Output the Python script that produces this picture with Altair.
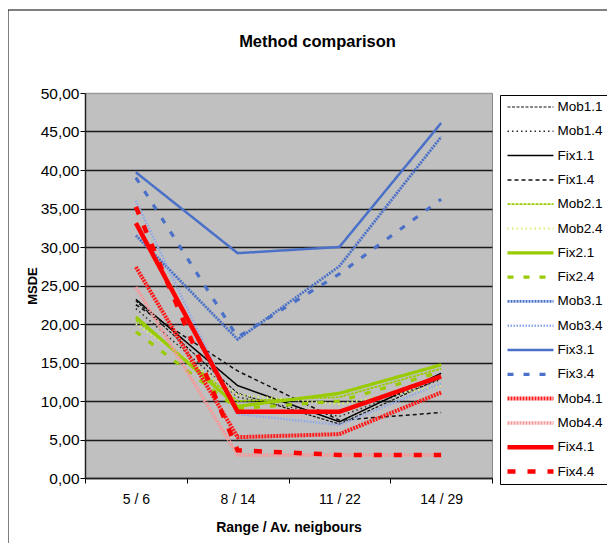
import altair as alt
import pandas as pd

# ---- data ----
categories = ["5 / 6", "8 / 14", "11 / 22", "14 / 29"]
series_names = ["Mob1.1", "Mob1.4", "Fix1.1", "Fix1.4",
                "Mob2.1", "Mob2.4", "Fix2.1", "Fix2.4",
                "Mob3.1", "Mob3.4", "Fix3.1", "Fix3.4",
                "Mob4.1", "Mob4.4", "Fix4.1", "Fix4.4"]

mob1_1 = [23.0, 11.0, 7.0, 13.0]
mob1_4 = [22.0, 10.5, 8.0, 12.8]
fix1_1 = [23.2, 12.0, 7.3, 13.6]
fix1_4 = [22.5, 13.9, 7.5, 8.5]
mob2_1 = [20.5, 10.0, 10.5, 14.2]
mob2_4 = [20.0, 10.8, 9.6, 12.0]
fix2_1 = [20.9, 9.3, 11.0, 14.7]
fix2_4 = [19.0, 9.0, 10.0, 13.8]
mob3_1 = [31.5, 18.0, 27.5, 44.3]
mob3_4 = [36.0, 8.3, 6.9, 12.3]
fix3_1 = [39.7, 29.2, 30.0, 46.1]
fix3_4 = [39.0, 18.3, 26.5, 36.2]
mob4_1 = [27.4, 5.3, 5.7, 11.1]
mob4_4 = [24.8, 3.0, 3.0, 3.0]
fix4_1 = [33.1, 8.6, 8.6, 13.2]
fix4_4 = [35.2, 3.6, 3.0, 3.0]

series_values = [mob1_1, mob1_4, fix1_1, fix1_4,
                 mob2_1, mob2_4, fix2_1, fix2_4,
                 mob3_1, mob3_4, fix3_1, fix3_4,
                 mob4_1, mob4_4, fix4_1, fix4_4]

# ---- styles ----
colors = ["#111111", "#2a2a2a", "#000000", "#111111",
          "#99CC00", "#D6EE70", "#99CC00", "#99CC00",
          "#4A70C8", "#8FA8E8", "#4A70C8", "#4A70C8",
          "#FF1A1A", "#F49A9A", "#FF0000", "#FF0000"]
dashes = [[3, 1.5], [1.5, 3], [1, 0], [4, 3],
          [3, 1], [1.5, 3], [1, 0], [6, 10],
          [2, 1], [1.5, 1.5], [1, 0], [6, 10],
          [2, 1], [2, 1], [1, 0], [8, 12]]
widths = [1.2, 1.5, 1.5, 1.5,
          1.8, 2.2, 3.2, 3.2,
          2.8, 2.5, 2.5, 3.2,
          4, 3.5, 4.5, 4.5]

rows = []
for name, vals in zip(series_names, series_values):
    for c, v in zip(categories, vals):
        rows.append({"cat": c, "series": name, "value": v})
df = pd.DataFrame(rows)

FONT = "Liberation Sans"
W, H = 407, 385

lines = alt.Chart(df).mark_line(strokeCap="butt").encode(
    x=alt.X("cat:N", sort=categories,
            scale=alt.Scale(type="band", paddingInner=0, paddingOuter=0),
            axis=alt.Axis(title="Range / Av. neigbours", labelAngle=0,
                          tickBand="extent", labelFontSize=14, labelFont=FONT,
                          labelColor="#000", tickSize=5, tickColor="#000",
                          labelPadding=9, domainColor="#222", domainWidth=1.5,
                          titleFont=FONT, titleFontSize=14, titleFontWeight="bold",
                          titleY=49, titleBaseline="middle", grid=False)),
    y=alt.Y("value:Q", scale=alt.Scale(domain=[0, 50], nice=False),
            axis=alt.Axis(title="MSDE", values=list(range(0, 51, 5)),
                          labelExpr="replace(format(datum.value, '.2f'), '.', ',')",
                          labelFontSize=15.5, labelFont=FONT, labelColor="#000",
                          tickSize=5, tickColor="#000", labelPadding=1,
                          domainColor="#222", domainWidth=1.5,
                          gridColor={"condition": {"test": "datum.value >= 50", "value": "#9a9a9a"},
                                     "value": "#1a1a1a"},
                          gridWidth=1.6,
                          titleFont=FONT, titleFontSize=13, titleFontWeight="bold",
                          titleX=-53, titleY=H / 2, titleBaseline="middle")),
    color=alt.Color("series:N", scale=alt.Scale(domain=series_names, range=colors),
                    legend=alt.Legend(title=None, orient="none", legendX=415, legendY=2,
                                      symbolType="stroke", symbolSize=2116,
                                      clipHeight=14,
                                      labelFont=FONT, labelFontSize=13.5, labelColor="#000",
                                      labelOffset=1.5, rowPadding=10.3, padding=5,
                                      strokeColor="#000", fillColor="#ffffff")),
    strokeDash=alt.StrokeDash("series:N",
                              scale=alt.Scale(type="ordinal", domain=series_names, range=dashes)),
    strokeWidth=alt.StrokeWidth("series:N",
                                scale=alt.Scale(type="ordinal", domain=series_names, range=widths)),
)

frame = alt.Chart(pd.DataFrame({"f": [0]})).mark_rect(filled=False, stroke="#000", strokeWidth=1).encode(
    x=alt.value(-77), x2=alt.value(540), y=alt.value(-83), y2=alt.value(470)
)

chart = alt.layer(frame, lines).properties(
    width=W, height=H,
    padding={"left": 77, "top": 85, "right": 115, "bottom": 65},
    autosize=alt.AutoSizeParams(type="none"),
    title=alt.TitleParams("Method comparison", font=FONT, fontSize=16.5, fontWeight="bold",
                          color="#000", anchor="middle", frame="group", dx=29, offset=-41),
    background="white",
).configure_view(fill="#C0C0C0", stroke="#8a8a8a", strokeWidth=1)

chart.save("out.html", embed_options={"renderer": "svg", "actions": False})
